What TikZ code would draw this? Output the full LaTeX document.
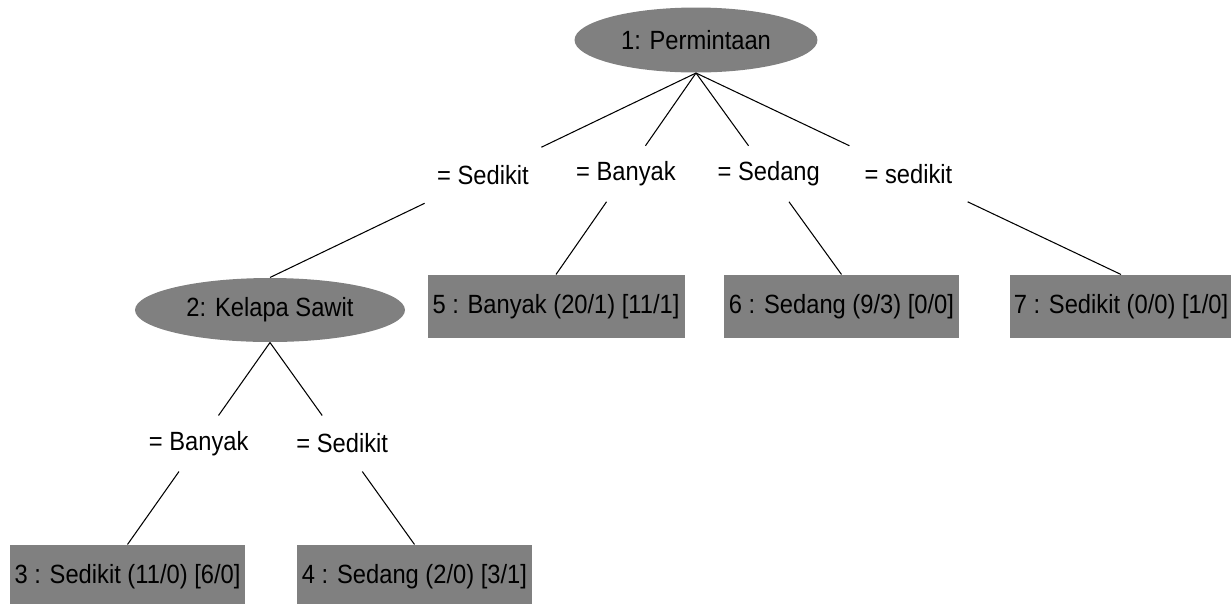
\documentclass[tikz,border=0pt]{standalone}
\usepackage{fontspec}
\setmainfont{Liberation Sans}[FakeStretch=0.9]
\usetikzlibrary{shapes.geometric,calc}
\definecolor{wekagray}{RGB}{128,128,128}

\begin{document}
\begin{tikzpicture}[x=0.02cm, y=-0.02cm, line width=0.6pt,
  every node/.style={font=\fontsize{15}{18}\selectfont, text=black},
  splitnode/.style={ellipse, fill=wekagray, inner sep=0pt},
  leafnode/.style={rectangle, fill=wekagray, inner xsep=0.1cm, minimum height=1.26cm},
  edgelabel/.style={rectangle, inner sep=0pt, minimum width=2.6cm, minimum height=1.1cm}]
\useasboundingbox (0,0) rectangle (1231,603);
\node (permintaan) [splitnode, minimum width=4.86cm, minimum height=1.3cm] at (696,40) {1: Permintaan};
\node (kelapa) [splitnode, minimum width=5.4cm, minimum height=1.28cm] at (270,310) {2: Kelapa Sawit};
\node (leafa) [leafnode] at (127.5,576.5) {3 : Sedikit (11/0) [6/0]};
\node (leafb) [leafnode] at (414.5,576.5) {4 : Sedang (2/0) [3/1]};
\node (leafc) [leafnode] at (556,306.5) {5 : Banyak (20/1) [11/1]};
\node (leafd) [leafnode] at (841.5,306.5) {6 : Sedang (9/3) [0/0]};
\node (leafe) [leafnode, inner xsep=0.08cm] at (1121,306.5) {7 : Sedikit (0/0) [1/0]};
\node (labsedikit) [edgelabel] at ($(permintaan.south)!0.5!(kelapa.north)$) {= Sedikit};
\node (labbanyak) [edgelabel] at ($(permintaan.south)!0.5!(leafc.north)$) {= Banyak};
\node (labsedang) [edgelabel] at ($(permintaan.south)!0.5!(leafd.north)$) {= Sedang};
\node (labkecil) [edgelabel] at ($(permintaan.south)!0.5!(leafe.north)$) {= sedikit};
\node (labkbanyak) [edgelabel] at ($(kelapa.south)!0.5!(leafa.north)$) {= Banyak};
\node (labksedikit) [edgelabel] at ($(kelapa.south)!0.5!(leafb.north)$) {= Sedikit};
\draw (permintaan.south) -- (labsedikit);
\draw (labsedikit) -- (kelapa.north);
\draw (permintaan.south) -- (labbanyak);
\draw (labbanyak) -- (leafc.north);
\draw (permintaan.south) -- (labsedang);
\draw (labsedang) -- (leafd.north);
\draw (permintaan.south) -- (labkecil);
\draw (labkecil) -- (leafe.north);
\draw (kelapa.south) -- (labkbanyak);
\draw (labkbanyak) -- (leafa.north);
\draw (kelapa.south) -- (labksedikit);
\draw (labksedikit) -- (leafb.north);
\end{tikzpicture}
\end{document}
